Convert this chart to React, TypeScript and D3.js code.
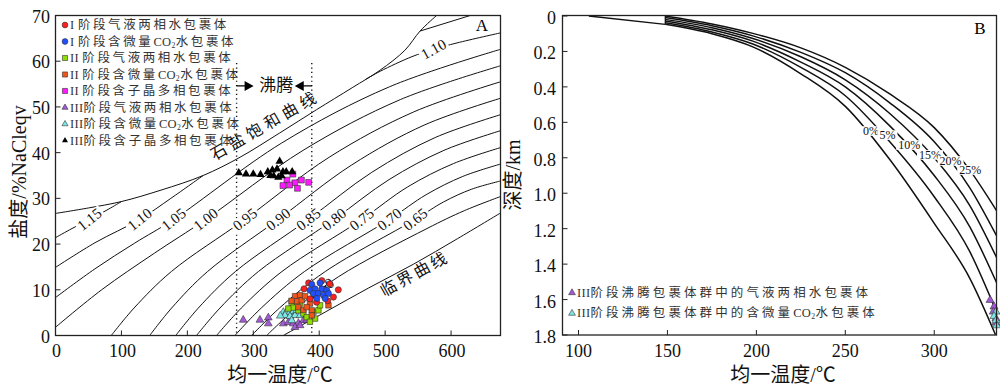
import { useEffect, useRef } from "react";
import * as d3 from "d3";

type Pt = [number, number];

// ---------- panel A: Th (°C) vs salinity (wt% NaCl eqv) ----------
const tempTicksA = [0, 100, 200, 300, 400, 500, 600];
const salinityTicks = [0, 10, 20, 30, 40, 50, 60, 70];

const halite: Pt[] = [[0, 26.7], [50, 27.9], [100, 29.3], [160, 31.8], [224, 35.0], [280, 39.0], [340, 44.3], [396, 49.4], [450, 54.2], [492, 58.0], [530, 62.4], [553, 66.6], [578, 70.0]];
const critical: Pt[] = [[345.5, 0], [410, 5.2], [475, 10.4], [543, 15.6], [610, 21.2], [675, 26.8]];

const iso115: Pt[] = [[0, 21.4], [25, 23.4], [51.7, 25.4], [80, 27.6], [100, 29.3]];
const iso115Top: Pt[] = [[553, 66.6], [629, 70]];
const iso110: Pt[] = [[0, 14.9], [60, 20.3], [127.7, 25.4], [175, 30.0], [224, 35.0]];
const iso110Top: Pt[] = [[470, 56.0], [492.5, 57.8], [540.7, 61.0], [573.5, 62.6], [609, 64.0], [675, 66.2]];
const iso105: Pt[] = [[0, 8.3], [60, 14.6], [120, 20.2], [179.4, 25.4], [343, 42.1], [506.5, 54.4], [675, 62.6]];
const iso100: Pt[] = [[0, 1.8], [70, 10.0], [150, 18.0], [228, 25.4], [375.5, 40.5], [523, 51.6], [675, 59.0]];
const iso095: Pt[] = [[84.6, 0], [119.1, 6], [175.8, 14], [287.3, 25.4], [415.2, 39.0], [543.2, 48.9], [675, 55.5]];
const iso090: Pt[] = [[142.9, 0], [176.1, 6], [230.7, 14], [338, 25.4], [449.2, 37.3], [560.4, 46.1], [675, 51.9]];
const iso085: Pt[] = [[182.4, 0], [216.6, 6], [273.0, 14], [383.6, 25.4], [479.8, 35.7], [575.9, 43.3], [675, 48.3]];
const iso080: Pt[] = [[213.9, 0], [249.4, 6], [307.8, 14], [422.6, 25.4], [505.9, 34.1], [589.2, 40.5], [675, 44.8]];
const iso075: Pt[] = [[244.3, 0], [281.8, 6], [343.5, 14], [464.7, 25.4], [534.1, 32.5], [603.5, 37.6], [675, 41.1]];
const iso070: Pt[] = [[272.1, 0], [312.0, 6], [377.7, 14], [506.7, 25.4], [562.2, 30.8], [617.8, 34.8], [675, 37.5]];
const iso065: Pt[] = [[297.5, 0], [339.7, 6], [409.2, 14], [545.8, 25.4], [588.4, 29.2], [631.1, 32.0], [675, 33.8]];
const iso060: Pt[] = [[320.3, 0], [361.6, 5.5], [429.7, 12.9], [563.5, 23.4], [620, 27.3], [675, 30.4]];

const isoLines = [iso115, iso115Top, iso110, iso110Top, iso105, iso100, iso095, iso090, iso085, iso080, iso075, iso070, iso065, iso060];

// label text, T, salinity
const isoLabels: [string, number, number][] = [
  ["1.15", 51.7, 25.4], ["1.10", 127.7, 25.4], ["1.05", 179.4, 25.4], ["1.00", 228, 25.4],
  ["0.95", 287.3, 25.4], ["0.90", 338, 25.4], ["0.85", 383.6, 25.4], ["0.80", 422.6, 25.4],
  ["0.75", 464.7, 25.4], ["0.70", 506.7, 25.4], ["0.65", 545.8, 25.4],
];
const isoTopLabel: [string, number, number] = ["1.10", 573.5, 62.6];
const boilingRange = [274.7, 388.7];

// inclusions
const stage1Aqueous: Pt[] = [[377, 10.2], [384, 11.5], [404, 12.0], [416, 11.3], [429, 10.0], [421.6, 8.4], [413, 7.6], [386, 8.0], [396, 7.3]];
const stage1CO2: Pt[] = [[388.7, 11.2], [401.3, 11.5], [386, 9.9], [393.7, 10.2], [404, 10.2], [411.5, 9.9], [391, 9.2], [398.6, 9.2], [406.3, 8.8], [414, 9.2], [396.3, 8.1], [409, 8.1]];
const stage2Aqueous: Pt[] = [[358.3, 7.0], [360.7, 6.1], [368.4, 5.5], [376, 4.8], [381.1, 4.0], [391.2, 5.1], [398.8, 5.5], [401.3, 6.6], [393.7, 3.7], [353.2, 5.9], [371, 7.0], [386, 3.0]];
const stage2CO2: Pt[] = [[363.3, 8.6], [371, 8.8], [366, 7.5], [373.5, 7.7], [378.5, 8.6], [368.4, 6.2], [376, 5.6], [386, 7.0], [388.7, 5.5], [388.7, 4.4], [414, 6.6], [381, 6.2], [358, 7.6]];
const stage2Daughter: Pt[] = [[360, 35.3], [351, 34.0], [363, 33.4], [373, 34.0], [384, 33.5], [345, 32.8], [355, 32.9], [367, 32.2]];
const stage3Aqueous: Pt[] = [[284.8, 3.4], [310.1, 3.4], [322.8, 3.9], [322.8, 2.6], [345.6, 2.6], [353.2, 2.9], [360.7, 2.6], [368.4, 2.7], [376, 3.3], [381, 3.4], [363.3, 1.8], [371, 2.2]];
const stage3CO2: Pt[] = [[345.5, 5.1], [350.7, 5.3], [355.7, 5.1], [360.7, 5.3], [348.1, 4.4], [355.7, 4.2], [363.3, 4.4], [371, 4.4], [366, 5.5], [358.3, 3.3], [341, 4.3]];
const stage3Daughter: Pt[] = [[278, 35.6], [289, 35.3], [300, 35.3], [311, 35.2], [322, 35.8], [326, 35.0], [331, 34.9], [336, 36.4], [338, 34.6], [340, 38.1], [345, 35.8], [350, 35.8], [359, 35.8], [343, 34.9], [329, 36.2]];

const legendA = [
  "I 阶段气液两相水包裹体", "I 阶段含微量CO₂水包裹体", "II 阶段气液两相水包裹体", "II 阶段含微量CO₂水包裹体",
  "II 阶段含子晶多相包裹体", "III阶段气液两相水包裹体", "III阶段含微量CO₂水包裹体", "III阶段含子晶多相包裹体",
];

// ---------- panel B: Th (°C) vs depth (km) ----------
const tempTicksB = [100, 150, 200, 250, 300];
const depthTicks = [0, 0.2, 0.4, 0.6, 0.8, 1.0, 1.2, 1.4, 1.6, 1.8];
const depthTickLabels = ["0", "0.2", "0.4", "0.6", "0.8", "1.0", "1.2", "1.4", "1.6", "1.8"];

const boilStart: Pt[] = [[105.8, 0], [148.8, 0.047]];
const boilStartEdge: Pt[] = [[148.8, 0], [148.8, 0.047]];
const boil0: Pt[] = [[148.8, 0.047], [175, 0.1], [198, 0.174], [225, 0.326], [250, 0.51], [275, 0.81], [300, 1.17], [320, 1.48], [334.5, 1.8]];
const boil5: Pt[] = [[148.8, 0.038], [175, 0.09], [198, 0.158], [225, 0.29], [250, 0.45], [275, 0.71], [300, 1.02], [320, 1.33], [335, 1.67]];
const boil10: Pt[] = [[148.8, 0.028], [175, 0.078], [198, 0.142], [225, 0.26], [250, 0.4], [275, 0.62], [300, 0.9], [320, 1.19], [335, 1.504]];
const boil15: Pt[] = [[148.8, 0.019], [175, 0.066], [198, 0.127], [225, 0.23], [250, 0.36], [275, 0.55], [300, 0.8], [320, 1.07], [335, 1.362]];
const boil20: Pt[] = [[148.8, 0.009], [175, 0.055], [198, 0.112], [225, 0.205], [250, 0.32], [275, 0.49], [300, 0.71], [320, 0.97], [335, 1.24]];
const boil25: Pt[] = [[148.8, 0], [175, 0.045], [198, 0.098], [225, 0.18], [250, 0.29], [275, 0.44], [300, 0.63], [320, 0.87], [335, 1.098]];
const boilCurves = [boil0, boil5, boil10, boil15, boil20, boil25];
const boilLabels: [string, number, number][] = [
  ["0%", 264.4, 0.649], ["5%", 273.7, 0.672], ["10%", 285.9, 0.728],
  ["15%", 297.6, 0.784], ["20%", 309.2, 0.818], ["25%", 320.2, 0.869],
];

const boilingAqueousB: Pt[] = [[331.4, 1.603], [333.6, 1.64], [333.2, 1.669], [334.7, 1.706], [334.7, 1.731]];
const boilingCO2B: Pt[] = [[334.7, 1.669], [333.6, 1.694], [334.7, 1.718], [335.1, 1.746]];
const legendB = ["III阶段沸腾包裹体群中的气液两相水包裹体", "III阶段沸腾包裹体群中的含微量CO₂水包裹体"];

const FONT = "'Liberation Serif','Times New Roman','Noto Sans CJK SC',serif";

// latin runs without letter spacing, CJK runs spaced, "₂" as a subscript
function rich(sel: any, str: string, spacing: number) {
  const runs = str.match(/₂|[\x00-\x7F]+|[^\x00-\x7F₂]+/g) || [];
  let shifted = false;
  runs.forEach((r) => {
    const ts = sel.append("tspan");
    if (r === "₂") {
      ts.attr("font-size", "0.62em").attr("dy", 3).attr("letter-spacing", 0.5).text("2");
      shifted = true;
      return;
    }
    if (shifted) {
      ts.attr("dy", -3);
      shifted = false;
    }
    ts.attr("letter-spacing", /^[\x00-\x7F]+$/.test(r) ? 0.3 : spacing).text(r);
  });
}

function marker(g: any, kind: string, fill: string, x: number, y: number, size: number) {
  const type = kind === "circle" ? d3.symbolCircle : kind === "square" ? d3.symbolSquare : d3.symbolTriangle;
  g.append("path")
    .attr("d", d3.symbol().type(type).size(size)())
    .attr("transform", `translate(${x},${y})`)
    .attr("fill", fill)
    .attr("stroke", fill === "#000" ? "none" : "#333")
    .attr("stroke-width", 0.6);
}

export default function App() {
  const ref = useRef<SVGSVGElement>(null);

  useEffect(() => {
    const svg = d3.select(ref.current);
    svg.selectAll("*").remove();

    const xA = d3.scaleLinear().domain([0, 675]).range([55.5, 500.5]);
    const yA = d3.scaleLinear().domain([0, 70]).range([335.5, 15.5]);
    const xB = d3.scaleLinear().domain([91, 335]).range([562.5, 996.5]);
    const yB = d3.scaleLinear().domain([0, 1.8]).range([16, 335]);

    const defs = svg.append("defs");
    defs.append("clipPath").attr("id", "clipA").append("rect")
      .attr("x", 55.5).attr("y", 15.5).attr("width", 445).attr("height", 320);
    defs.append("clipPath").attr("id", "clipB").append("rect")
      .attr("x", 562.5).attr("y", 15.5).attr("width", 434).attr("height", 320);

    // ---------- panel A ----------
    const lineA = d3.line<Pt>().x((d) => xA(d[0])).y((d) => yA(d[1])).curve(d3.curveCatmullRom.alpha(0.5));
    const gA = svg.append("g").attr("clip-path", "url(#clipA)");
    [halite, critical, ...isoLines].forEach((p) => {
      gA.append("path").attr("d", lineA(p)).attr("fill", "none").attr("stroke", "#111").attr("stroke-width", 1);
    });

    // boiling window
    boilingRange.forEach((t) => {
      gA.append("line")
        .attr("x1", xA(t)).attr("x2", xA(t)).attr("y1", yA(59.6)).attr("y2", yA(0))
        .attr("stroke", "#111").attr("stroke-width", 1.4).attr("stroke-dasharray", "1.2,3.2");
    });
    const ay = yA(54.6);
    const xl = xA(boilingRange[0]);
    const xr = xA(boilingRange[1]);
    gA.append("line").attr("x1", xl).attr("x2", xl + 10).attr("y1", ay).attr("y2", ay).attr("stroke", "#000").attr("stroke-width", 1.3);
    gA.append("path").attr("d", `M${xl + 17},${ay} L${xl + 8},${ay - 5} L${xl + 8},${ay + 5} Z`).attr("fill", "#000");
    gA.append("line").attr("x1", xr).attr("x2", xr - 9).attr("y1", ay).attr("y2", ay).attr("stroke", "#000").attr("stroke-width", 1.3);
    gA.append("path").attr("d", `M${xr - 17},${ay} L${xr - 8},${ay - 5} L${xr - 8},${ay + 5} Z`).attr("fill", "#000");
    gA.append("text").attr("x", (xl + xr) / 2 + 2).attr("y", ay).attr("dominant-baseline", "central")
      .attr("text-anchor", "middle").attr("font-family", FONT).attr("font-size", 17).attr("fill", "#111").text("沸腾");

    // 0.60 label, mostly hidden under the cluster
    gA.append("text").attr("transform", `translate(${xA(404)},${yA(10.2)}) rotate(-36)`)
      .attr("text-anchor", "middle").attr("dominant-baseline", "central")
      .attr("font-family", FONT).attr("font-size", 15).text("0.60");

    const labelWithGap = (g: any, txt: string, x: number, y: number, rot: number, size: number) => {
      const lg = g.append("g").attr("transform", `translate(${x},${y}) rotate(${rot})`);
      const r = lg.append("rect").attr("fill", "#fff");
      const t = lg.append("text").attr("text-anchor", "middle").attr("dominant-baseline", "central")
        .attr("font-family", FONT).attr("font-size", size).attr("fill", "#111").text(txt);
      const w = (t.node() as SVGTextElement).getComputedTextLength() + 4;
      r.attr("x", -w / 2).attr("y", -size * 0.4).attr("width", w).attr("height", size * 0.8);
    };
    isoLabels.forEach(([txt, t, s]) => labelWithGap(gA, txt, xA(t), yA(s), -38, 15));
    labelWithGap(gA, isoTopLabel[0], xA(isoTopLabel[1]), yA(isoTopLabel[2]), -29, 15);

    gA.append("text").attr("transform", `translate(${xA(318)},${yA(46)}) rotate(-30)`)
      .attr("text-anchor", "middle").attr("dominant-baseline", "central")
      .attr("font-family", FONT).attr("font-size", 16).attr("letter-spacing", 4.5).attr("fill", "#111").text("石盐饱和曲线");
    gA.append("text").attr("transform", `translate(${xA(545)},${yA(13.5)}) rotate(-29)`)
      .attr("text-anchor", "middle").attr("dominant-baseline", "central")
      .attr("font-family", FONT).attr("font-size", 16).attr("letter-spacing", 3).attr("fill", "#111").text("临界曲线");

    const pA = svg.append("g");
    const plot = (pts: Pt[], kind: string, fill: string, size: number) =>
      pts.forEach((d) => marker(pA, kind, fill, xA(d[0]), yA(d[1]), size));
    plot(stage3Aqueous, "triangle", "#a45ad8", 26);
    plot(stage3CO2, "triangle", "#7de6e6", 26);
    plot(stage2Aqueous, "square", "#8fdc00", 30);
    plot(stage2CO2, "square", "#f0561a", 30);
    plot(stage1Aqueous, "circle", "#ff2020", 30);
    plot(stage1CO2, "circle", "#1f4fff", 30);
    plot(stage2Daughter, "square", "#ff19ff", 34);
    plot(stage3Daughter, "triangle", "#000", 30);

    // legend A
    const legKinds = [["circle", "#ff2020"], ["circle", "#1f4fff"], ["square", "#8fdc00"], ["square", "#f0561a"],
      ["square", "#ff19ff"], ["triangle", "#a45ad8"], ["triangle", "#7de6e6"], ["triangle", "#000"]];
    legendA.forEach((txt, i) => {
      const ly = 25 + i * 16.5;
      const [k, c] = legKinds[i];
      marker(svg, k, c, 65, ly, k === "triangle" ? 16 : 26);
      const t = svg.append("text").attr("x", 70).attr("y", ly).attr("dominant-baseline", "central")
        .attr("font-family", FONT).attr("font-size", 12.5).attr("fill", "#333");
      rich(t, txt, 2.6);
    });

    // frame + axes A
    svg.append("rect").attr("x", 55.5).attr("y", 15.5).attr("width", 445).attr("height", 320)
      .attr("fill", "none").attr("stroke", "#222").attr("stroke-width", 1.3);
    tempTicksA.forEach((t) => {
      svg.append("line").attr("x1", xA(t)).attr("x2", xA(t)).attr("y1", 335.5).attr("y2", 330.5).attr("stroke", "#222");
      svg.append("text").attr("x", xA(t) + 1).attr("y", 357).attr("text-anchor", "middle")
        .attr("font-family", FONT).attr("font-size", 18).attr("fill", "#111").text(t);
    });
    salinityTicks.forEach((s) => {
      svg.append("line").attr("x1", 55.5).attr("x2", 60.5).attr("y1", yA(s)).attr("y2", yA(s)).attr("stroke", "#222");
      svg.append("text").attr("x", 50).attr("y", yA(s) + 1).attr("text-anchor", "end").attr("dominant-baseline", "central")
        .attr("font-family", FONT).attr("font-size", 18).attr("fill", "#111").text(s);
    });
    svg.append("text").attr("x", 482).attr("y", 25).attr("text-anchor", "middle").attr("dominant-baseline", "central")
      .attr("font-family", FONT).attr("font-size", 17).text("A");
    svg.append("text").attr("x", 280).attr("y", 382).attr("text-anchor", "middle")
      .attr("font-family", FONT).attr("font-size", 20).attr("fill", "#111").text("均一温度/℃");
    svg.append("text").attr("transform", "translate(26,172) rotate(-90)").attr("text-anchor", "middle")
      .attr("font-family", FONT).attr("font-size", 20).attr("fill", "#111").text("盐度/%NaCleqv");

    // ---------- panel B ----------
    const gB = svg.append("g").attr("clip-path", "url(#clipB)");
    const lineB = d3.line<Pt>().x((d) => xB(d[0])).y((d) => yB(d[1])).curve(d3.curveMonotoneX);
    const straightB = d3.line<Pt>().x((d) => xB(d[0])).y((d) => yB(d[1]));
    [boilStart, boilStartEdge].forEach((p) => {
      gB.append("path").attr("d", straightB(p)).attr("fill", "none").attr("stroke", "#111").attr("stroke-width", 1.3);
    });
    boilCurves.forEach((p) => {
      gB.append("path").attr("d", lineB(p)).attr("fill", "none").attr("stroke", "#111").attr("stroke-width", 1.5);
    });
    boilLabels.forEach(([txt, t, d]) => labelWithGap(gB, txt, xB(t), yB(d), 0, 12));

    boilingAqueousB.forEach((d) => marker(svg, "triangle", "#a45ad8", xB(d[0]), yB(d[1]), 28));
    boilingCO2B.forEach((d) => marker(svg, "triangle", "#7de6e6", xB(d[0]), yB(d[1]), 28));

    legendB.forEach((txt, i) => {
      const ly = 292.7 + i * 20.6;
      marker(svg, "triangle", i === 0 ? "#a45ad8" : "#7de6e6", 572, ly, 20);
      const t = svg.append("text").attr("x", 577).attr("y", ly).attr("dominant-baseline", "central")
        .attr("font-family", FONT).attr("font-size", 12.5).attr("fill", "#333");
      rich(t, txt, 3.1);
    });

    svg.append("rect").attr("x", 562.5).attr("y", 15.5).attr("width", 434).attr("height", 319.5)
      .attr("fill", "none").attr("stroke", "#222").attr("stroke-width", 1.3);
    tempTicksB.forEach((t) => {
      svg.append("line").attr("x1", xB(t)).attr("x2", xB(t)).attr("y1", 335).attr("y2", 330).attr("stroke", "#222");
      svg.append("text").attr("x", xB(t)).attr("y", 357).attr("text-anchor", "middle")
        .attr("font-family", FONT).attr("font-size", 18).attr("fill", "#111").text(t);
    });
    depthTicks.forEach((d, i) => {
      svg.append("line").attr("x1", 562.5).attr("x2", 567.5).attr("y1", yB(d)).attr("y2", yB(d)).attr("stroke", "#222");
      svg.append("text").attr("x", 556).attr("y", yB(d) + 2).attr("text-anchor", "end").attr("dominant-baseline", "central")
        .attr("font-family", FONT).attr("font-size", 18).attr("fill", "#111").text(depthTickLabels[i]);
    });
    svg.append("text").attr("x", 980).attr("y", 28).attr("text-anchor", "middle").attr("dominant-baseline", "central")
      .attr("font-family", FONT).attr("font-size", 17).text("B");
    svg.append("text").attr("x", 783).attr("y", 382).attr("text-anchor", "middle")
      .attr("font-family", FONT).attr("font-size", 20).attr("fill", "#111").text("均一温度/℃");
    svg.append("text").attr("transform", "translate(520,175) rotate(-90)").attr("text-anchor", "middle")
      .attr("font-family", FONT).attr("font-size", 20).attr("fill", "#111").text("深度/km");
  }, []);

  return (
    <svg
      ref={ref}
      width={1000}
      height={386}
      viewBox="0 0 1000 386"
      style={{ position: "absolute", left: 0, top: 0, background: "#fff", display: "block" }}
    />
  );
}
